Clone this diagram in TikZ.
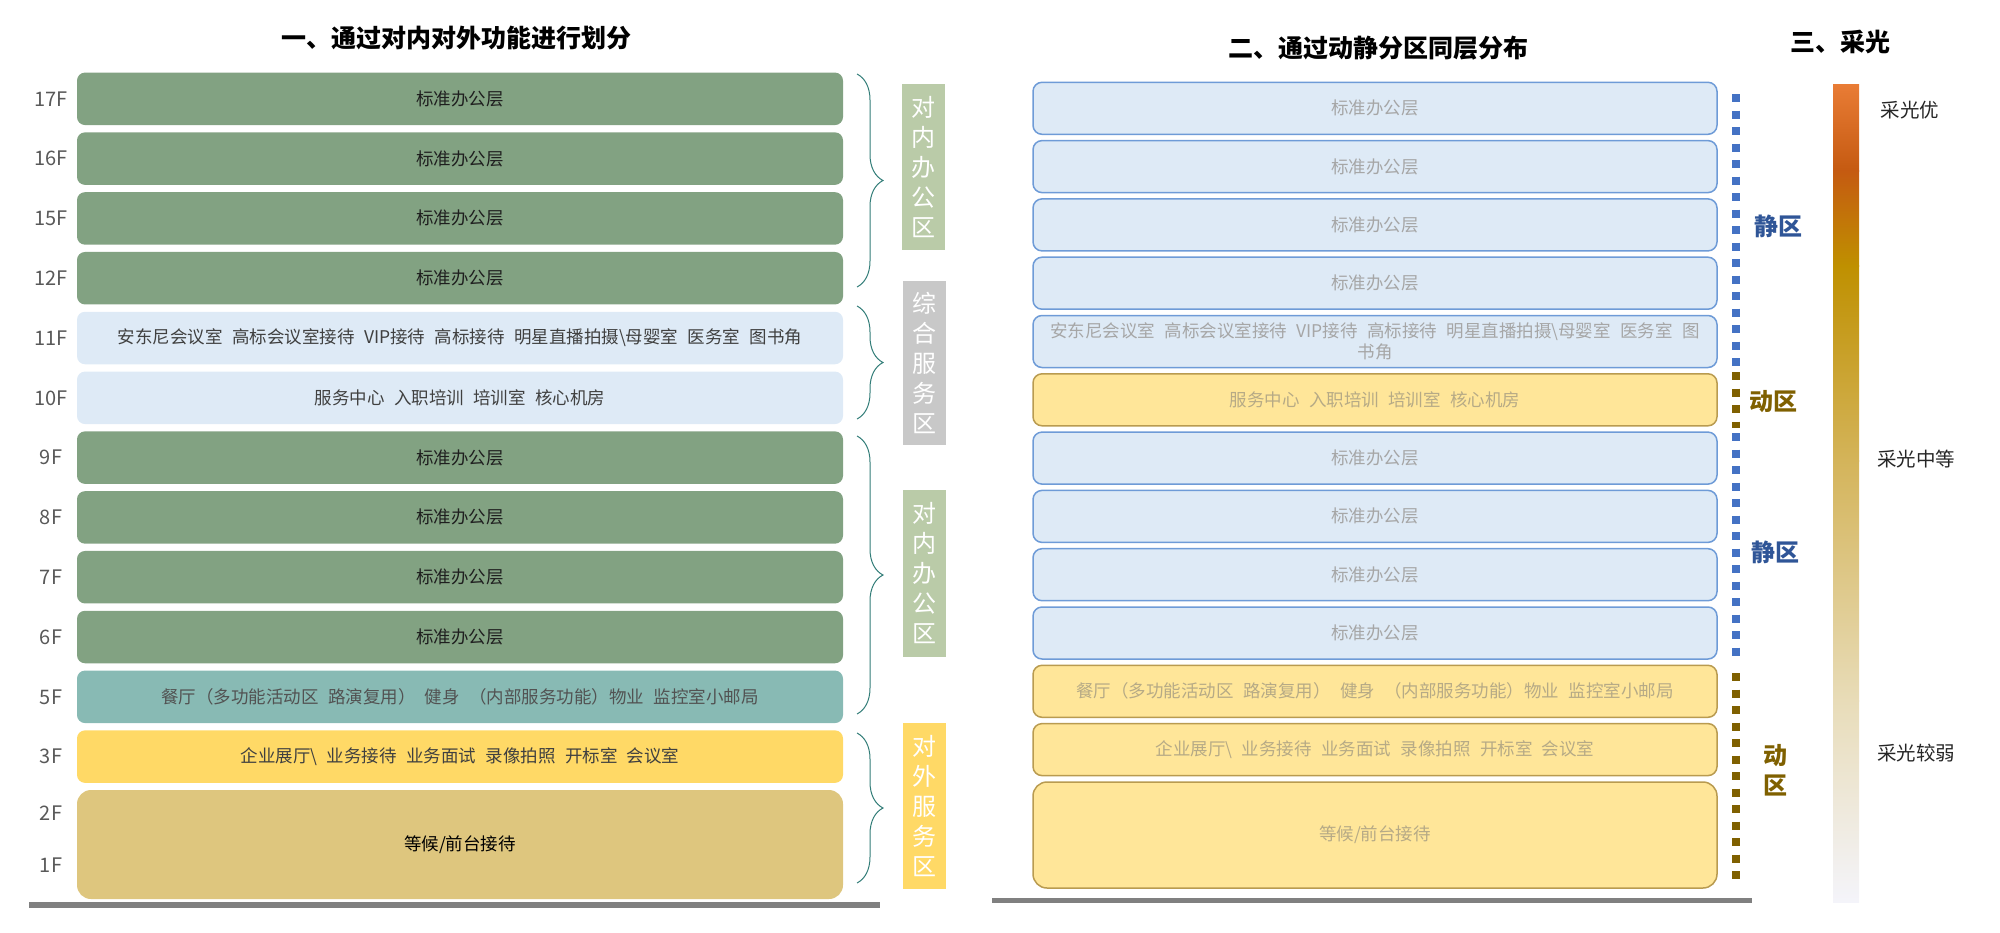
\documentclass[tikz,border=0pt]{standalone}
\usepackage{fontspec}
\setmainfont{Noto Sans CJK SC}[WordSpace=2.4]
\usepackage{tikz}
\usetikzlibrary{positioning,decorations.pathreplacing,calc}

\definecolor{officegreen}{RGB}{130,162,130}
\definecolor{lightblue}{RGB}{222,234,246}
\definecolor{tealfive}{RGB}{136,186,180}
\definecolor{goldthree}{RGB}{255,217,102}
\definecolor{tanone}{RGB}{222,198,126}
\definecolor{labelgreen}{RGB}{186,203,168}
\definecolor{labelgray}{RGB}{200,200,200}
\definecolor{bracecol}{RGB}{50,125,120}
\definecolor{quietblue}{RGB}{68,114,196}
\definecolor{quiettext}{RGB}{47,85,151}
\definecolor{busybrown}{RGB}{127,96,0}
\definecolor{paleyellow}{RGB}{255,230,153}
\definecolor{blueedge}{RGB}{110,155,215}
\definecolor{goldedge}{RGB}{185,155,80}
\definecolor{fadetext}{RGB}{166,166,166}
\definecolor{fadegold}{RGB}{182,170,134}
\definecolor{floorgray}{RGB}{128,128,128}

\tikzset{
  lfloor/.style={rounded corners=8pt, minimum width=766pt, minimum height=52.5pt,
    inner sep=0pt, font=\fontsize{17.5}{21}\selectfont},
  rfloor/.style={rounded corners=9pt, minimum width=684pt, minimum height=52pt,
    inner sep=0pt, line width=1.5pt, align=center, font=\fontsize{17.5}{21}\selectfont},
  quietbox/.style={rfloor, draw=blueedge, fill=lightblue, text=fadetext},
  busybox/.style={rfloor, draw=goldedge, fill=paleyellow, text=fadegold},
  flabel/.style={text=black!65, font=\fontsize{20}{24}\selectfont},
  zonetag/.style={minimum width=43pt, inner sep=0pt, text=white, align=center,
    font=\fontsize{24}{30}\selectfont},
  heading/.style={font=\fontsize{25}{30}\selectfont\bfseries},
  zonebrace/.style={draw=bracecol, line width=1pt, decorate,
    decoration={brace, amplitude=26pt}},
  zoneline/.style={line width=8pt, dash pattern=on 8pt off 8.5pt},
  zonename/.style={font=\fontsize{24}{30}\selectfont\bfseries, align=center},
  lightnote/.style={text=black!85, font=\fontsize{19.5}{24}\selectfont}
}

\begin{document}
\begin{tikzpicture}[x=1pt, y=-1pt]
    \useasboundingbox (0,0) rectangle (2000,932);

    % titles
    \node[heading] (t1) at (456,38) {一、通过对内对外功能进行划分};
    \node[heading] (t2) at (1378,48.5) {二、通过动静分区同层分布};
    \node[heading] (t3) at (1840,42) {三、采光};

    % left: floors by function
    \node[lfloor, fill=officegreen, text=black!88] (l17) at (460,98.8) {标准办公层};
    \node[lfloor, fill=officegreen, text=black!88] (l16) at (460,158.6) {标准办公层};
    \node[lfloor, fill=officegreen, text=black!88] (l15) at (460,218.4) {标准办公层};
    \node[lfloor, fill=officegreen, text=black!88] (l12) at (460,278.2) {标准办公层};
    \node[lfloor, fill=lightblue, text=black!75] (l11) at (460,338) {安东尼会议室 高标会议室接待 VIP接待 高标接待 明星直播拍摄\textbackslash 母婴室 医务室 图书角};
    \node[lfloor, fill=lightblue, text=black!75] (l10) at (460,397.8) {服务中心 入职培训 培训室 核心机房};
    \node[lfloor, fill=officegreen, text=black!88] (l9) at (460,457.6) {标准办公层};
    \node[lfloor, fill=officegreen, text=black!88] (l8) at (460,517.4) {标准办公层};
    \node[lfloor, fill=officegreen, text=black!88] (l7) at (460,577.2) {标准办公层};
    \node[lfloor, fill=officegreen, text=black!88] (l6) at (460,637) {标准办公层};
    \node[lfloor, fill=tealfive, text=black!68] (l5) at (460,696.8) {餐厅（多功能活动区 路演复用） 健身 （内部服务功能）物业 监控室小邮局};
    \node[lfloor, fill=goldthree, text=black!75] (l3) at (460,756.6) {企业展厅\textbackslash\ 业务接待 业务面试 录像拍照 开标室 会议室};
    \node[lfloor, fill=tanone, text=black, minimum height=109pt, rounded corners=14pt] (l1) at (460,844.5) {等候/前台接待};

    \node[flabel] (f17) at (51,98.8) {17F};
    \node[flabel] (f16) at (51,158.6) {16F};
    \node[flabel] (f15) at (51,218.4) {15F};
    \node[flabel] (f12) at (51,278.2) {12F};
    \node[flabel] (f11) at (51,338) {11F};
    \node[flabel] (f10) at (51,397.8) {10F};
    \node[flabel] (f9) at (51,457.6) {9F};
    \node[flabel] (f8) at (51,517.4) {8F};
    \node[flabel] (f7) at (51,577.2) {7F};
    \node[flabel] (f6) at (51,637) {6F};
    \node[flabel] (f5) at (51,696.8) {5F};
    \node[flabel] (f3) at (51,756.6) {3F};
    \node[flabel] (f2) at (51,813) {2F};
    \node[flabel] (f1) at (51,865) {1F};

    \draw[zonebrace] (857,74) -- (857,287);
    \draw[zonebrace] (857,306) -- (857,419);
    \draw[zonebrace] (857,436) -- (857,714);
    \draw[zonebrace] (857,733) -- (857,883);

    \node[zonetag, fill=labelgreen, minimum height=166pt] (z1) at (923,167) {对\\内\\办\\公\\区};
    \node[zonetag, fill=labelgray, minimum height=164pt] (z2) at (924,363) {综\\合\\服\\务\\区};
    \node[zonetag, fill=labelgreen, minimum height=167pt] (z3) at (924,573.5) {对\\内\\办\\公\\区};
    \node[zonetag, fill=goldthree, minimum height=166pt] (z4) at (924,806) {对\\外\\服\\务\\区};

    \draw[line width=6pt, floorgray] (29,905) -- (880,905);

    % right: quiet / busy zones
    \node[quietbox] (r17) at (1375,108.3) {标准办公层};
    \node[quietbox] (r16) at (1375,166.6) {标准办公层};
    \node[quietbox] (r15) at (1375,224.9) {标准办公层};
    \node[quietbox] (r12) at (1375,283.2) {标准办公层};
    \node[quietbox] (r11) at (1375,341.5) {安东尼会议室 高标会议室接待 VIP接待 高标接待 明星直播拍摄\textbackslash 母婴室 医务室 图\\书角};
    \node[busybox] (r10) at (1375,399.8) {服务中心 入职培训 培训室 核心机房};
    \node[quietbox] (r9) at (1375,458.1) {标准办公层};
    \node[quietbox] (r8) at (1375,516.4) {标准办公层};
    \node[quietbox] (r7) at (1375,574.7) {标准办公层};
    \node[quietbox] (r6) at (1375,633) {标准办公层};
    \node[busybox] (r5) at (1375,691.3) {餐厅（多功能活动区 路演复用） 健身 （内部服务功能）物业 监控室小邮局};
    \node[busybox] (r3) at (1375,749.6) {企业展厅\textbackslash\ 业务接待 业务面试 录像拍照 开标室 会议室};
    \node[busybox, minimum height=106pt, rounded corners=14pt] (r1) at (1375,835) {等候/前台接待};

    \draw[zoneline, quietblue] (1736,94) -- (1736,370);
    \draw[zoneline, busybrown] (1736,372) -- (1736,428);
    \draw[zoneline, quietblue] (1736,433) -- (1736,661);
    \draw[zoneline, busybrown] (1736,673) -- (1736,883);

    \node[zonename, text=quiettext] (q1) at (1778,226) {静区};
    \node[zonename, text=busybrown] (b1) at (1773,402) {动区};
    \node[zonename, text=quiettext] (q2) at (1775,552) {静区};
    \node[zonename, text=busybrown] (b2) at (1775,770) {动\\区};

    \draw[line width=5pt, floorgray] (992,900) -- (1752,900);

    % daylight bar
    \shade[top color={rgb,255:red,233;green,124;blue,53}, bottom color={rgb,255:red,197;green,90;blue,17}] (1833,84) rectangle (1859,171);
    \shade[top color={rgb,255:red,197;green,90;blue,17}, bottom color={rgb,255:red,191;green,144;blue,0}] (1833,170) rectangle (1859,266);
    \shade[top color={rgb,255:red,191;green,144;blue,0}, bottom color={rgb,255:red,212;green,180;blue,90}] (1833,265) rectangle (1859,461);
    \shade[top color={rgb,255:red,212;green,180;blue,90}, bottom color={rgb,255:red,232;green,220;blue,184}] (1833,460) rectangle (1859,701);
    \shade[top color={rgb,255:red,232;green,220;blue,184}, bottom color={rgb,255:red,244;green,244;blue,250}] (1833,700) rectangle (1859,902);

    \node[lightnote] (d1) at (1910,110) {采光优};
    \node[lightnote] (d2) at (1916,459) {采光中等};
    \node[lightnote] (d3) at (1916,753) {采光较弱};
\end{tikzpicture}
\end{document}
